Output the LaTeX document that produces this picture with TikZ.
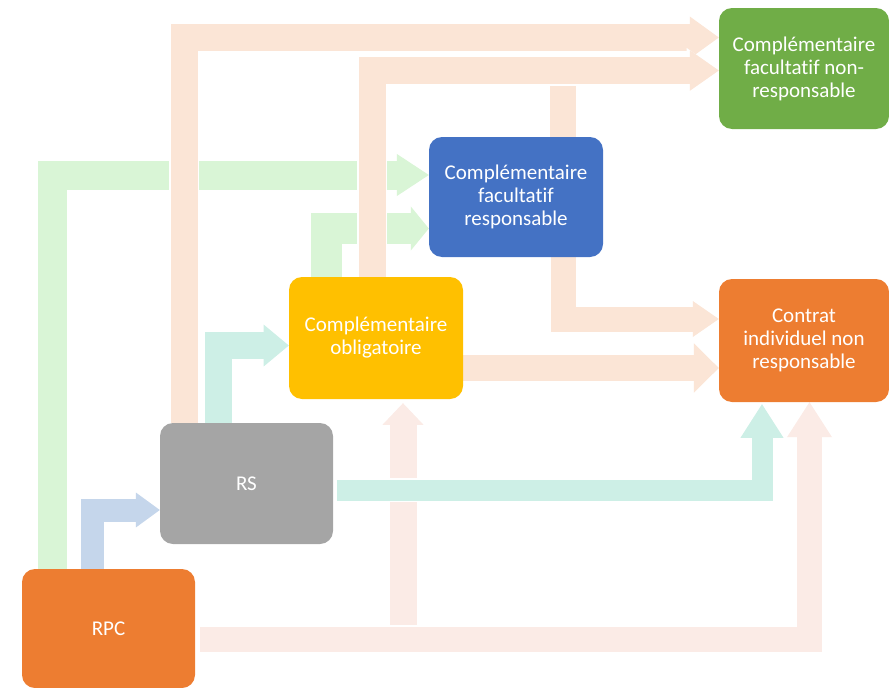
\documentclass[tikz,border=0pt]{standalone}
\usepackage{fontspec}
\setmainfont{Carlito}[Ligatures=NoCommon]
\usetikzlibrary{arrows.meta,backgrounds}

\definecolor{orgbox}{HTML}{ED7D31}
\definecolor{greybox}{HTML}{A5A5A5}
\definecolor{yelbox}{HTML}{FFC000}
\definecolor{bluebox}{HTML}{4472C4}
\definecolor{greenbox}{HTML}{70AD47}
\definecolor{lpeach}{HTML}{FBE5D6}
\definecolor{lpink}{HTML}{FBEBE6}
\definecolor{lgreen}{HTML}{D9F5D6}
\definecolor{lteal}{HTML}{CDEFE6}
\definecolor{lblue}{HTML}{C5D6EB}

\tikzset{
        box/.style={rounded corners=13pt, fill=#1, text=white, align=center, inner sep=0pt,
                minimum width=173pt, minimum height=121pt, font=\fontsize{21}{23}\selectfont},
        flow/.style n args={4}{draw=#1, line width=#2pt, line join=miter,
                -{Triangle[width=0pt #3, length=0pt #4, line width=0pt]},
                preaction={draw=white, line width=#2pt+3pt}},
}

\begin{document}
\begin{tikzpicture}[x=1pt, y=-1pt]
        \useasboundingbox (0,0) rectangle (889,688);

        \node[box=orgbox, minimum height=119pt] (rpc) at (108.5,628.5) {RPC};
        \node[box=greybox] (rs) at (246.5,483.5) {RS};
        \node[box=yelbox, minimum width=174pt, minimum height=122pt] (oblig) at (376,338) {Complémentaire\\obligatoire};
        \node[box=bluebox, minimum width=174pt, minimum height=120pt] (facresp) at (516,197) {Complémentaire\\facultatif\\responsable};
        \node[box=greenbox, minimum width=170pt] (facnonresp) at (804,68.5) {Complémentaire\\facultatif non-\\responsable};
        \node[box=orgbox, minimum width=170pt, minimum height=123pt] (contrat) at (804,340.5) {Contrat\\individuel non\\responsable};

        \begin{pgfonlayer}{background}
        % depuis RPC
        \draw[flow={lgreen}{29}{1.45}{1.1}] ([xshift=30.5pt]rpc.north west) |- ([yshift=22pt]facresp.west);
        \draw[flow={lgreen}{31}{1.42}{0.58}] ([xshift=-50pt]oblig.north) |- ([yshift=-31.5pt]facresp.west);
        \draw[flow={lblue}{23}{1.52}{1.04}] ([xshift=71pt]rpc.north west) |- ([yshift=-26.5pt]rs.west);
        \coordinate (rpcout) at ([xshift=5pt,yshift=-10.5pt]rpc.east);
        \draw[flow={lpink}{27}{1.52}{0.8}] ([xshift=27pt]oblig.south |- rpcout) -- ([xshift=27pt,yshift=-4pt]oblig.south);
        \draw[flow={lpink}{25}{1.8}{1.4}] (rpcout) -| ([xshift=5.5pt]contrat.south);

        % depuis RS
        \draw[flow={lteal}{27}{1.55}{0.93}] ([xshift=-28pt]rs.north) |- ([yshift=-7.5pt]oblig.west);
        \draw[flow={lteal}{21}{2.05}{1.6}] ([xshift=4pt,yshift=-6.5pt]rs.east) -| ([xshift=-42pt,yshift=-2pt]contrat.south);

        % vers les non responsables
        \draw[flow={lpeach}{27}{1.55}{1.07}] ([xshift=-62.5pt]rs.north) |- ([yshift=31pt]facnonresp.west);
        \draw[flow={lpeach}{26}{1}{1}, -] ([xshift=47pt]facresp.north) -- ++(0,-66.5);
        \draw[flow={lpeach}{27}{1.5}{1.07}] ([xshift=-4pt]oblig.north) |- ([yshift=-2pt]facnonresp.west);
        \draw[flow={lpeach}{25}{1.44}{1.04}] ([xshift=47pt]facresp.south) |- ([yshift=21.5pt]contrat.west);
        \draw[flow={lpeach}{26}{1.9}{0.96}] ([yshift=-30pt]oblig.east) -- ([yshift=-27.5pt]contrat.west);
        \end{pgfonlayer}
\end{tikzpicture}
\end{document}
